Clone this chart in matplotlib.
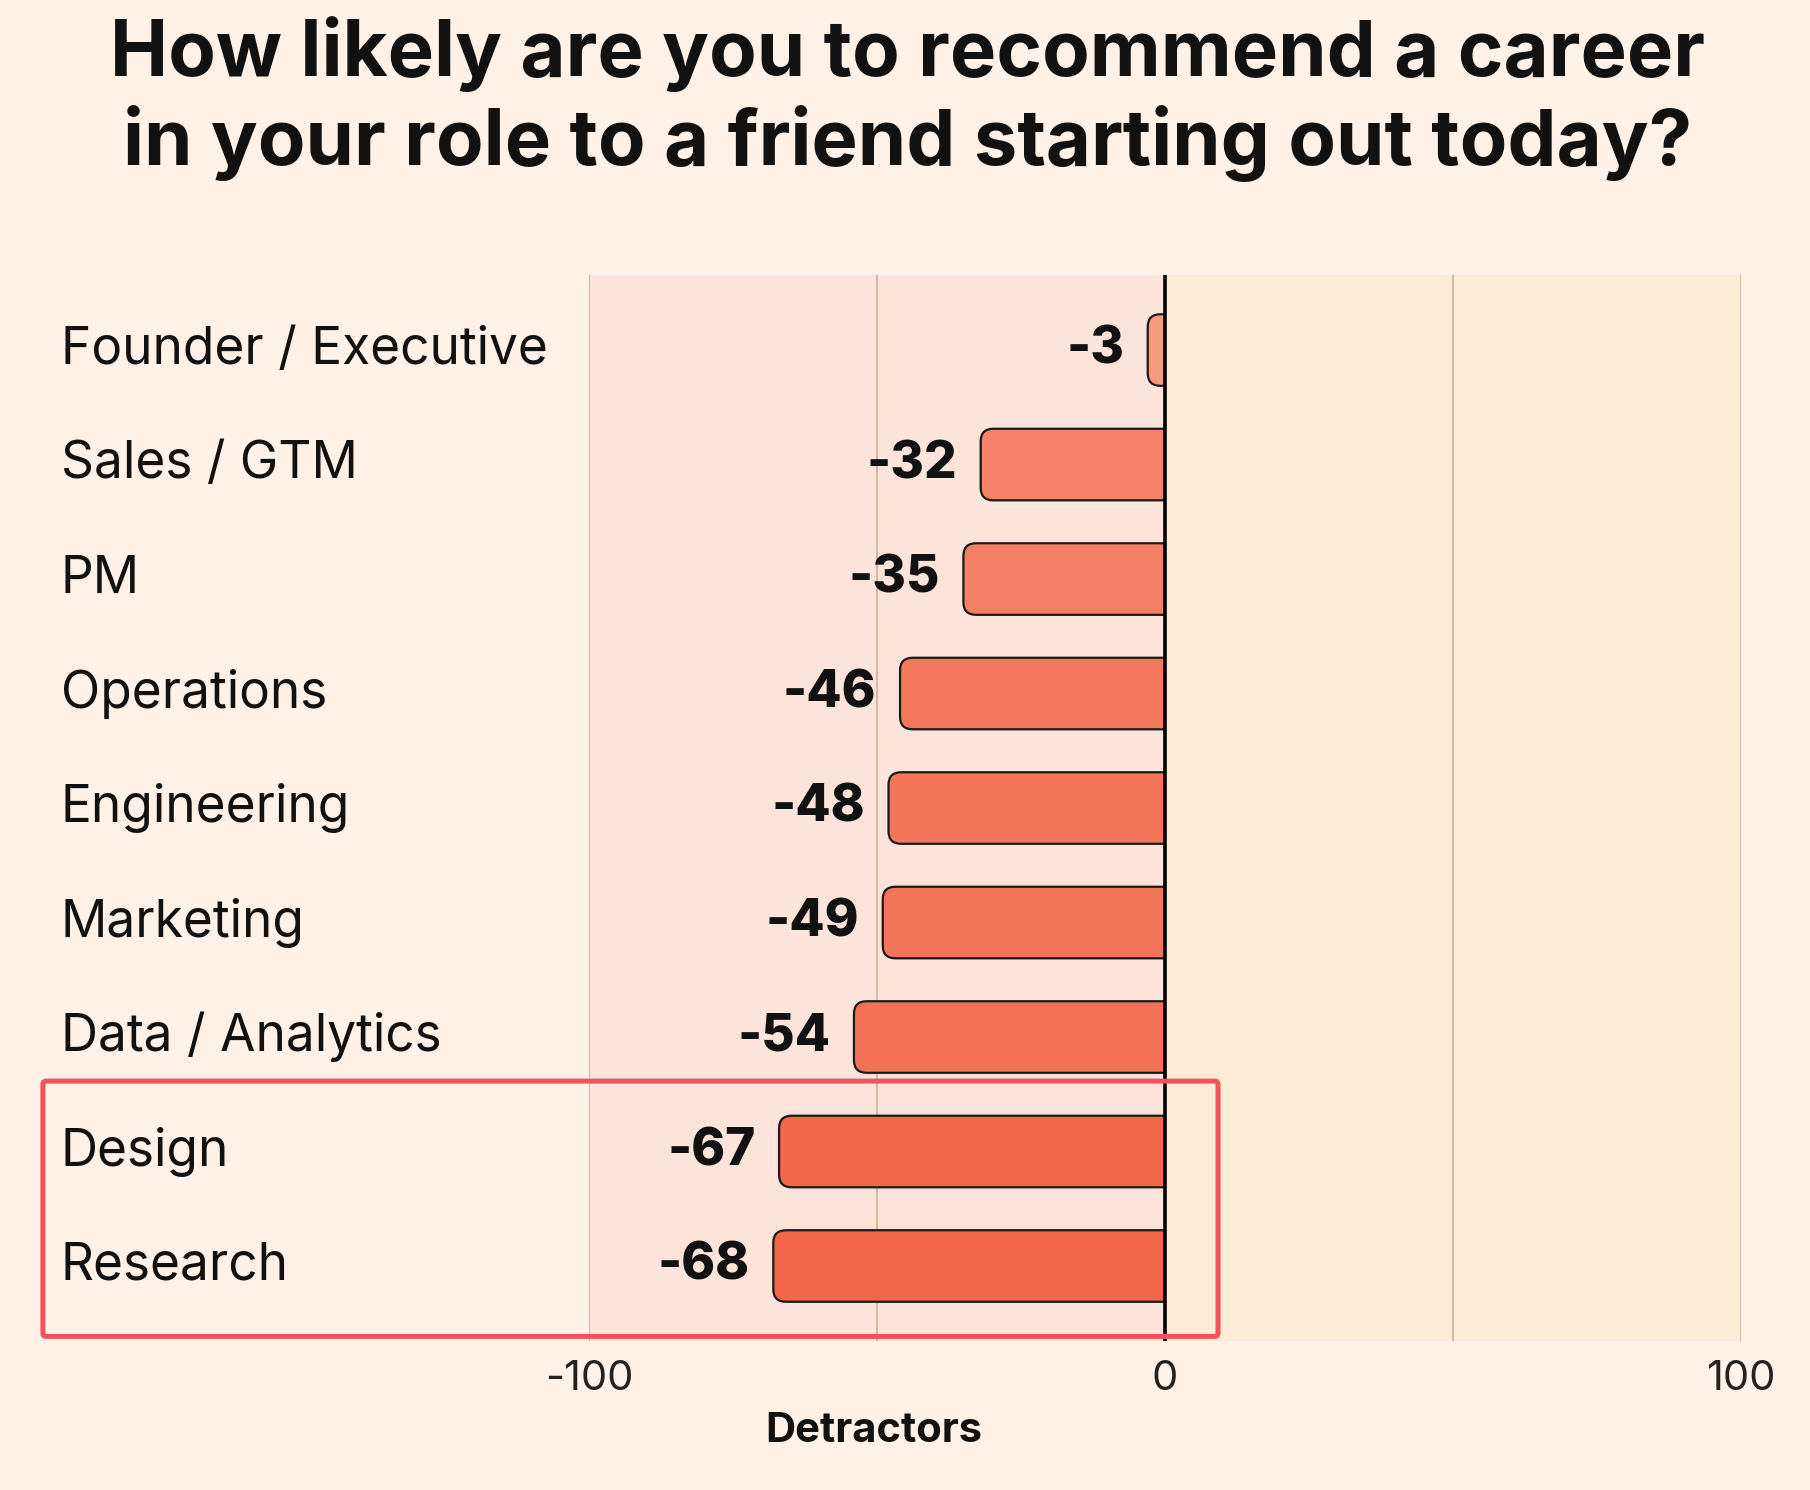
import matplotlib
matplotlib.use("Agg")
import matplotlib.pyplot as plt
from matplotlib.patches import FancyBboxPatch, Rectangle
from matplotlib.colors import LinearSegmentedColormap

# data
roles = ["Founder / Executive", "Sales / GTM", "PM", "Operations", "Engineering",
         "Marketing", "Data / Analytics", "Design", "Research"]
scores = [-3, -32, -35, -46, -48, -49, -54, -67, -68]
highlight = ["Design", "Research"]
xticks = [-100, 0, 100]
xtick_labels = ["-100", "0", "100"]
grid_at = [-100, -50, 50, 100]
title = "How likely are you to recommend a career\nin your role to a friend starting out today?"
xlabel = "Detractors"

BG = "#FDF1E8"
LEFT_BG = "#FDE4DB"
RIGHT_BG = "#FDEBD6"
GRID = "#D4B29E"
BOX = "#F0545A"
bar_cmap = LinearSegmentedColormap.from_list("bars", ["#F79C84", "#F2664A"])

plt.rcParams["font.family"] = ["Inter", "DejaVu Sans"]

fig = plt.figure(figsize=(18.1, 14.9), dpi=100, facecolor=BG)
ax = fig.add_axes([0.3254, 0.1000, 0.6365, 0.7154])
ax.set_facecolor(BG)
ax.set_xlim(-100, 100)
ax.set_ylim(len(roles) - 1 + 0.655, -0.655)

# two background halves + light grid
ax.axvspan(-100, 0, color=LEFT_BG, zorder=0, lw=0)
ax.axvspan(0, 100, color=RIGHT_BG, zorder=0, lw=0)
for g in grid_at:
    ax.axvline(g, color=GRID, lw=1.3, zorder=1)

# bars rounded on the left only: draw past zero and clip at zero
clip = Rectangle((-100, -1), 100, len(roles) + 2, transform=ax.transData)
bar_h = 0.625
for i, (role, v) in enumerate(zip(roles, scores)):
    col = bar_cmap(min(-v / 70.0, 1.0))
    p = FancyBboxPatch((v, i - bar_h / 2), -v + 4, bar_h,
                       boxstyle="round,pad=0,rounding_size=2.2",
                       mutation_aspect=0.05, facecolor=col,
                       edgecolor="#1a1a1a", lw=1.6, zorder=3)
    ax.add_patch(p)
    p.set_clip_path(clip)
    ax.annotate(str(v), (v, i), xytext=(-17, 0), textcoords="offset points",
                ha="right", va="center", fontsize=37, fontweight=800,
                color="#111111", zorder=4)
    ax.annotate(role, (0.0337, i), xycoords=("figure fraction", "data"),
                ha="left", va="center", fontsize=37, color="#111111")

ax.axvline(0, color="black", lw=2.6, zorder=5)

# highlight box around the last rows
idx = [roles.index(h) for h in highlight]
box = FancyBboxPatch((-194.8, min(idx) - 0.615), 204.0, max(idx) - min(idx) + 1.23,
                     boxstyle="round,pad=0,rounding_size=0.6", mutation_aspect=0.05,
                     facecolor="none", edgecolor=BOX, lw=3.6, zorder=6, clip_on=False)
ax.add_patch(box)

ax.set_xticks(xticks)
ax.set_xticklabels(xtick_labels, fontsize=30, color="#222222")
ax.tick_params(axis="x", length=0, pad=14)
ax.set_yticks([])
for s in ax.spines.values():
    s.set_visible(False)

fig.text(0.4828, 0.0395, xlabel, ha="center", va="center", fontsize=30,
         fontweight="bold", color="#111111")

fig.text(0.5015, 0.9335, title, ha="center", va="center", fontsize=56,
         fontweight="bold", color="#111111", linespacing=1.22)

fig.savefig("out.png", dpi=100, facecolor=BG)
